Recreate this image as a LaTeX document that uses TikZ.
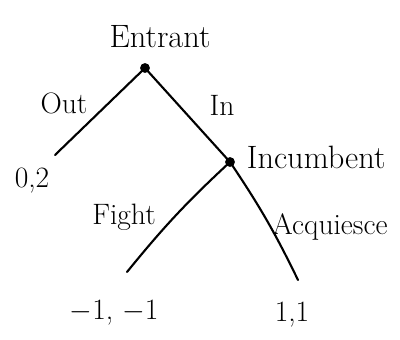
\documentclass[tikz,border=0pt]{standalone}
\usepackage{tikz}
\usetikzlibrary{calc}

\tikzset{
  branch/.style={line width=1.5pt, line cap=round},
  decision/.style={circle, fill=black, inner sep=0pt, minimum size=7pt},
  playerlabel/.style={font=\fontsize{23}{26}\selectfont},
  movelabel/.style={font=\fontsize{21}{24}\selectfont},
  payoff/.style={font=\fontsize{21}{24}\selectfont}
}

\begin{document}
\begin{tikzpicture}
  \useasboundingbox (0,0) rectangle (10,8.475);

  % Decision nodes
  \node[decision] (entrant) at (3.625,6.775) {};
  \node[decision] (incumbent) at (5.75,4.425) {};
  \coordinate (outend) at (1.375,4.6);
  \coordinate (fightend) at (3.175,1.675);
  \coordinate (acqend) at (7.45,1.475);

  % Branches
  \draw[branch] (entrant.center) -- (outend);
  \draw[branch] (entrant.center) -- (incumbent.center);
  \draw[branch] (incumbent.center) to[bend right=4] (fightend);
  \draw[branch] (incumbent.center) to[bend left=4] (acqend);

  % Players
  \node[playerlabel] (entrantname) at (4.0,7.55) {Entrant};
  \node[playerlabel, anchor=west] (incumbentname) at (6.05,4.55) {Incumbent};

  % Moves
  \node[movelabel] (outlabel) at (1.6,5.9) {Out};
  \node[movelabel] (inlabel) at (5.55,5.85) {In};
  \node[movelabel] (fightlabel) at (3.1,3.05) {Fight};
  \node[movelabel] (acqlabel) at (8.25,2.8) {Acquiesce};

  % Payoffs
  \node[payoff] (outpay) at (0.8,3.95) {0,2};
  \node[payoff] (fightpay) at (2.85,0.65) {$-$1, $-$1};
  \node[payoff] (acqpay) at (7.3,0.6) {1,1};
\end{tikzpicture}
\end{document}
